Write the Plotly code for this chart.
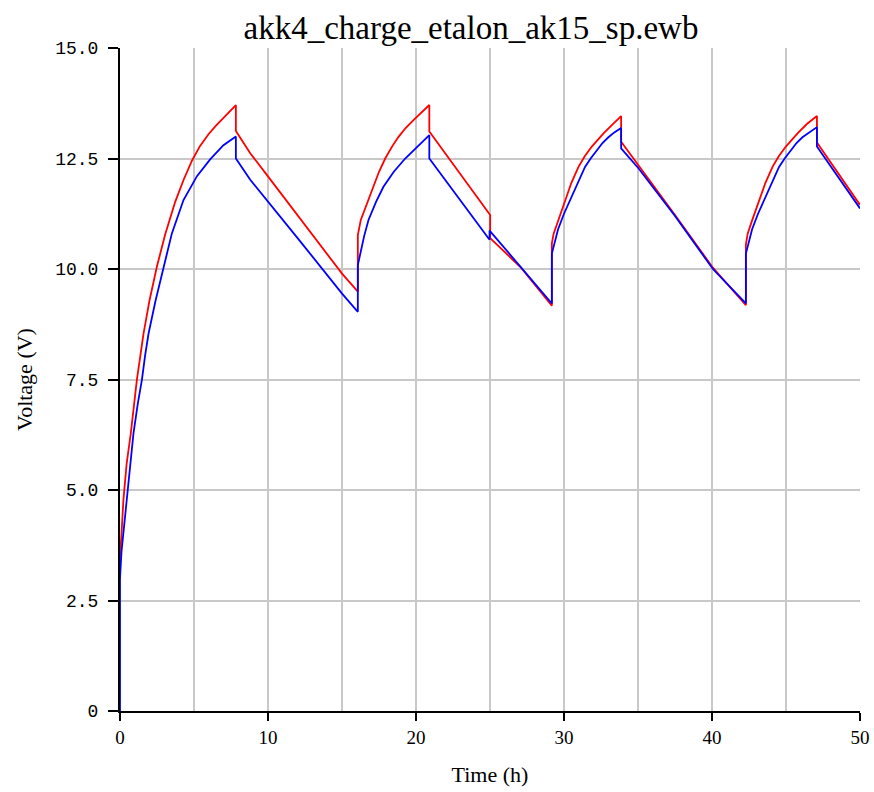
import plotly.graph_objects as go

# Red trace (time in h, voltage in V)
red_time = [0, 0, 0.1, 0.23, 0.45, 0.73, 1.14, 1.59, 2.0, 2.49, 3.05, 3.73, 4.3, 4.86, 5.4, 5.98, 6.5, 7.11, 7.83, 7.83,
            8.8, 9.92, 12.0, 14.99, 16.07, 16.07, 16.27, 16.7, 17.13, 17.5, 17.92, 18.4, 18.82, 19.3, 19.83, 20.4, 20.9, 20.9,
            23.0, 25.01, 25.01, 27.04, 29.18, 29.18, 29.3, 29.6, 30.08, 30.5, 30.98, 31.4, 31.88, 32.3, 32.67, 33.3, 33.86, 33.86,
            35.03, 37.5, 40.06, 42.29, 42.29, 42.41, 42.71, 43.19, 43.61, 44.09, 44.51, 44.99, 45.41, 45.78, 46.41, 47.09, 47.09,
            48.5, 50.0]
red_volt = [3.0, 3.5, 4.0, 4.77, 5.6, 6.28, 7.49, 8.54, 9.3, 10.05, 10.78, 11.52, 12.02, 12.45, 12.78, 13.05, 13.25, 13.47, 13.71, 13.12,
            12.62, 12.13, 11.21, 9.9, 9.49, 10.77, 11.11, 11.5, 11.86, 12.2, 12.5, 12.78, 12.99, 13.19, 13.37, 13.55, 13.71, 13.11,
            12.14, 11.22, 10.7, 10.05, 9.17, 10.58, 10.8, 11.1, 11.56, 11.95, 12.31, 12.55, 12.77, 12.93, 13.07, 13.28, 13.46, 12.88,
            12.35, 11.22, 10.03, 9.18, 10.55, 10.8, 11.1, 11.56, 11.95, 12.31, 12.55, 12.77, 12.93, 13.07, 13.28, 13.46, 12.86,
            12.18, 11.45]

# Blue trace
blue_time = [0, 0, 0.1, 0.25, 0.46, 0.68, 0.91, 1.2, 1.48, 1.7, 1.93, 2.4, 2.94, 3.5, 4.29, 5.2, 6.09, 6.99, 7.83, 7.83,
             8.8, 9.92, 12.0, 14.99, 16.07, 16.07, 16.23, 16.5, 16.79, 17.3, 17.8, 18.5, 19.27, 19.8, 20.28, 20.9, 20.9,
             23.0, 24.97, 24.97, 27.04, 29.18, 29.18, 29.35, 29.6, 30.0, 30.42, 30.9, 31.42, 31.8, 32.22, 32.6, 33.0, 33.4, 33.86, 33.86,
             35.03, 37.5, 40.06, 42.29, 42.29, 42.46, 42.71, 43.11, 43.53, 44.01, 44.53, 44.91, 45.33, 45.71, 46.11, 46.55, 47.09, 47.09,
             48.5, 50.0]
blue_volt = [0.0, 3.0, 3.6, 4.1, 4.77, 5.55, 6.28, 6.95, 7.49, 8.05, 8.54, 9.28, 10.05, 10.8, 11.56, 12.1, 12.48, 12.8, 13.0, 12.5,
             12.02, 11.56, 10.7, 9.45, 9.03, 10.09, 10.35, 10.75, 11.11, 11.52, 11.86, 12.2, 12.5, 12.67, 12.81, 13.03, 12.5,
             11.55, 10.66, 10.87, 10.06, 9.22, 10.35, 10.6, 10.9, 11.25, 11.56, 11.95, 12.31, 12.5, 12.69, 12.85, 12.98, 13.09, 13.19, 12.73,
             12.28, 11.2, 10.0, 9.22, 10.35, 10.6, 10.9, 11.25, 11.56, 11.95, 12.31, 12.5, 12.69, 12.85, 12.98, 13.09, 13.21, 12.77,
             12.1, 11.37]

y_ticks = [0, 2.5, 5.0, 7.5, 10.0, 12.5, 15.0]
y_tick_text = ["0", "2.5", "5.0", "7.5", "10.0", "12.5", "15.0"]
x_ticks = [0, 10, 20, 30, 40, 50]

serif = "Liberation Serif, Times New Roman, serif"

fig = go.Figure()
fig.add_trace(go.Scatter(x=red_time, y=red_volt, mode="lines",
                         line=dict(color="#ff0000", width=1.8), showlegend=False))
fig.add_trace(go.Scatter(x=blue_time, y=blue_volt, mode="lines",
                         line=dict(color="#0000ff", width=1.8), showlegend=False))

fig.update_layout(
    width=874, height=792,
    margin=dict(l=120, r=14, t=48, b=81, autoexpand=False),
    paper_bgcolor="white", plot_bgcolor="white",
    title=dict(text="akk4_charge_etalon_ak15_sp.ewb", x=(471 - 120) / 740, xref="paper", xanchor="center",
               y=0.965, yref="container", yanchor="middle",
               font=dict(family=serif, size=33, color="black")),
    xaxis=dict(range=[0, 50], tickvals=x_ticks, ticks="outside", ticklen=8, tickcolor="black", tickwidth=1.5,
               showline=True, linecolor="black", linewidth=2, automargin=False,
               showgrid=True, gridcolor="#c8c8c8", gridwidth=1.5,
               minor=dict(dtick=5, showgrid=True, gridcolor="#c8c8c8", gridwidth=1.5, ticks=""),
               zeroline=False,
               tickfont=dict(family=serif, size=19, color="black"),
               title=dict(text="Time (h)", font=dict(family=serif, size=22, color="black"),
                          standoff=20)),
    yaxis=dict(range=[0, 15], tickvals=y_ticks, ticktext=y_tick_text, ticks="outside", ticklen=10,
               tickcolor="black", tickwidth=1.5, ticklabelstandoff=6,
               showline=True, linecolor="black", linewidth=2, automargin=False,
               showgrid=True, gridcolor="#c8c8c8", gridwidth=1.5, zeroline=False,
               tickfont=dict(family="Liberation Mono", size=18, color="black"),
               title=dict(text="Voltage (V)", font=dict(family=serif, size=22, color="black"),
                          standoff=16)),
)

fig.write_html("out.html", config={"displayModeBar": False},
               post_script="document.body.style.margin='0';document.body.style.padding='0';")
